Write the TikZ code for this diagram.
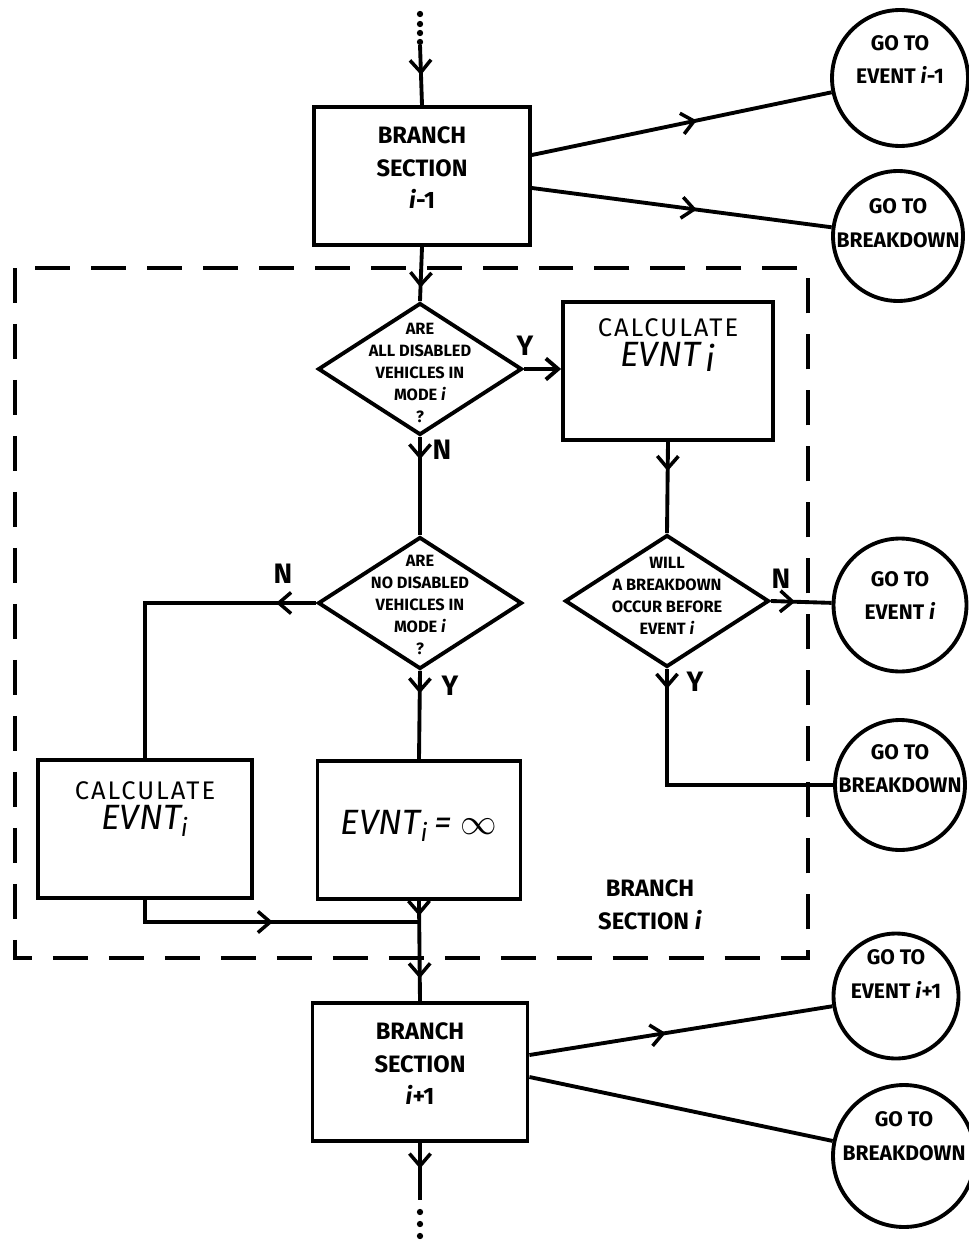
\documentclass[tikz,border=0pt]{standalone}
\usepackage{fontspec}
\setmainfont{Fira Sans}
\usetikzlibrary{arrows.meta,shapes.geometric,decorations.markings,calc}
\newcommand{\ztext}[2]{\smash{\makebox[0pt]{\raisebox{#1}{\begin{tabular}{@{}c@{}}#2\end{tabular}}}}}
\newcommand{\iv}{\textit{i}}
\newcommand{\calc}{{\addfontfeatures{LetterSpace=8}CALCULATE}}
\begin{document}
\begin{tikzpicture}[x=0.02cm,y=-0.02cm,
  ln/.style={line width=2.2pt},
  ar/.style={postaction={decorate,decoration={markings,mark=at position #1 with {\arrow[line width=2pt]{Straight Barb[length=7pt,width=12pt]}}}}},
  endar/.style={-{Straight Barb[length=7pt,width=12pt]}},
  box/.style={draw,line width=2.2pt,rectangle,inner sep=0pt,minimum width=#1,minimum height=2.76cm},
  box/.default=4.3cm,
  dia/.style={draw,line width=2.2pt,diamond,inner sep=0pt,minimum width=4.08cm,minimum height=2.64cm,font=\bfseries\fontsize{9.3}{12.5}\selectfont},
  circ/.style={draw,line width=2.2pt,circle,inner sep=0pt,minimum size=#1,font=\bfseries\fontsize{12}{19}\selectfont},
  circ/.default=2.68cm,
  lab/.style={font=\bfseries\fontsize{16}{16}\selectfont,inner sep=0pt},
  bfont/.style={font=\bfseries\fontsize{13.5}{18.5}\selectfont},
]
\useasboundingbox (0,0) rectangle (968,1244);

% frame of branch section i
\draw[ln,dash pattern=on 0.7cm off 0.42cm] (15,268) rectangle (808,958);

% boxes
\node[box=4.32cm,bfont] (b1) at (422,176) {\ztext{0pt}{BRANCH\\SECTION\\\iv-1}};
\node[box=4.2cm] (c1) at (668,371) {\ztext{12pt}{\fontsize{14.5}{28}\selectfont\calc\\\fontsize{20}{28}\selectfont\itshape EVNT\,\raisebox{-0.25ex}{i}}};
\node[box=4.28cm] (c2) at (145,829) {\ztext{9pt}{\fontsize{14.5}{26}\selectfont\calc\\\fontsize{20}{26}\selectfont\itshape EVNT\textsubscript{i}}};
\node[box=4.06cm] (e) at (419,830) {\ztext{0pt}{\fontsize{20}{22}\selectfont\itshape EVNT\textsubscript{i}\,= $\infty$}};
\node[box=4.3cm,bfont] (b3) at (420,1072) {\ztext{0pt}{BRANCH\\SECTION\\\iv+1}};

% diamonds
\node[dia] (d1) at (420,369) {\ztext{-5pt}{ARE\\ALL DISABLED\\VEHICLES IN\\MODE \iv\\?}};
\node[dia] (d2) at (667,601) {\ztext{0pt}{WILL\\A BREAKDOWN\\OCCUR BEFORE\\EVENT \iv}};
\node[dia] (d3) at (420,603) {\ztext{-4pt}{ARE\\NO DISABLED\\VEHICLES IN\\MODE \iv\\?}};

% connector circles
\node[circ=2.72cm] (ge1) at (900,78) {\ztext{7pt}{GO TO\\EVENT \iv-1}};
\node[circ=2.6cm] (gb1) at (898,236) {\ztext{4pt}{GO TO\\BREAKDOWN}};
\node[circ=2.66cm] (ge2) at (900,605) {\ztext{2pt}{GO TO\\EVENT \iv}};
\node[circ=2.6cm] (gb2) at (900,785) {\ztext{6pt}{GO TO\\BREAKDOWN}};
\node[circ=2.5cm] (ge3) at (896,996) {\ztext{9pt}{GO TO\\EVENT \iv+1}};
\node[circ=2.84cm] (gb3) at (904,1156) {\ztext{8pt}{GO TO\\BREAKDOWN}};

% labels
\node[lab] (ly1) at (525,346) {Y};
\node[lab] (ln1) at (442,450) {N};
\node[lab] (ln2) at (283,574) {N};
\node[lab] (ly2) at (450,686) {Y};
\node[lab] (ln3) at (781,579) {N};
\node[lab] (ly3) at (695,682) {Y};
\node[font=\bfseries\fontsize{13.5}{19}\selectfont,align=center] (sec) at (650,905) {BRANCH\\SECTION \iv};

% coordinates
\coordinate (t0) at (420,45);
\coordinate (j) at (420,922);
\coordinate (bt) at (420,1200);

% dots
\foreach \yy in {14,24,33,42} \fill (420,\yy) circle (1.8pt);
\foreach \yy in {1212,1224,1236} \fill (420,\yy) circle (1.8pt);

% connectors
\draw[ln,ar=0.5] (t0) -- (b1.north);
\draw[ln,ar=0.55] ($(b1.east)+(0,-21)$) -- (ge1);
\draw[ln,ar=0.55] ($(b1.east)+(0,12)$) -- (gb1);
\draw[ln,ar=0.75] (b1.south) -- (d1.north);
\draw[ln,endar] (d1.east) -- (d1.east -| c1.west);
\draw[ln,ar=0.32] (c1.south) -- (d2.north);
\draw[ln,ar=0.4] (d2.east) -- (ge2);
\draw[ln,ar=0.4cm] (d2.south) |- (gb2);
\draw[ln,ar=0.45cm] (d1.south) -- (d3.north);
\draw[ln,ar=0.8cm] (d3.west) -| (c2.north);
\draw[ln,ar=0.45cm] (d3.south) -- (e.north);
\draw[ln,ar=3.0cm] (c2.south) |- (j);
\draw[ln,ar=0.3cm,ar=1.55cm] (e.south) -- (b3.north);
\draw[ln,ar=0.45] ($(b3.east)+(0,-17)$) -- (ge3);
\draw[ln] ($(b3.east)+(0,5)$) -- (gb3);
\draw[ln,ar=0.45] (b3.south) -- (bt);
\end{tikzpicture}
\end{document}
